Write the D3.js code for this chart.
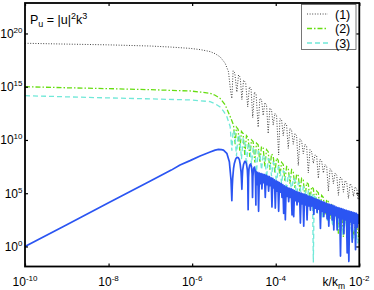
<!DOCTYPE html>
<html lang="en">
<head>
  <meta charset="UTF-8">
  <title>Spectrum P_u</title>
  <script src="https://d3js.org/d3.v7.min.js"></script>
  <style>
    body { margin: 0; background: #fff; }
    text { font-family: "Liberation Sans", Arial, Helvetica, sans-serif; }
  </style>
</head>
<body>
  <svg width="374" height="290"></svg>
  <script>
    // values are [log10(k/k_m), log10(P_u)]
    const xTicks = [-10, -8, -6, -4, -2];
    const yTicks = [0, 5, 10, 15, 20];
    const legendLabels = ["(1)", "(2)", "(3)"];

    const series1 = [
      [-10,19.08],[-9,19.0],[-8,18.93],[-7,18.82],[-6.5,18.72],[-6.05,18.6],[-5.8,18.48],[-5.57,18.3],
      [-5.45,18.1],[-5.33,17.8],[-5.21,17.2],[-5.13,16.4],[-5.08,14.6],[-5.05,13.9],[-5.02,16.5],
      [-4.98,16.3],[-4.93,14.5],[-4.89,16.1],[-4.85,15.9],[-4.81,13.8],[-4.77,15.6],[-4.72,15.4],
      [-4.67,13.1],[-4.63,15.0],[-4.59,14.8],[-4.55,12.1],[-4.51,14.5],[-4.47,14.3],[-4.42,11.2],
      [-4.38,13.9],[-4.34,13.8],[-4.3,12.3],[-4.26,13.5],[-4.22,13.3],[-4.18,10.6],[-4.14,13.0],
      [-4.1,12.8],[-4.06,11.4],[-4.02,12.5],[-3.98,12.3],[-3.93,8.6],[-3.9,12.0],[-3.86,11.9],
      [-3.82,10.4],[-3.78,11.6],[-3.74,11.4],[-3.7,9.2],[-3.66,11.1],[-3.62,10.9],[-3.58,9.6],
      [-3.54,10.6],[-3.5,10.4],[-3.46,7.6],[-3.42,10.1],[-3.38,9.9],[-3.34,8.7],[-3.3,9.6],
      [-3.26,9.4],[-3.22,6.9],[-3.18,9.1],[-3.14,8.9],[-3.1,7.8],[-3.06,8.6],[-3.02,8.5],
      [-2.98,6.4],[-2.94,8.2],[-2.9,8.0],[-2.86,6.9],[-2.82,7.7],[-2.78,7.5],[-2.74,5.2],
      [-2.7,7.3],[-2.66,7.1],[-2.62,5.9],[-2.58,6.9],[-2.54,6.7],[-2.5,4.8],[-2.46,6.5],
      [-2.42,6.4],[-2.38,5.1],[-2.34,6.2],[-2.3,6.0],[-2.26,4.5],[-2.22,5.9],[-2.18,5.7],
      [-2.14,4.7],[-2.1,5.6],[-2.06,5.4],[-2.03,4.4],[-2.0,5.3]
    ];

    const series2 = [
      [-10,15.0],[-9,14.9],[-8,14.82],[-7,14.72],[-6.05,14.6],[-5.8,14.5],[-5.57,14.38],[-5.45,14.2],
      [-5.33,13.9],[-5.21,13.3],[-5.09,12.2],[-5.01,11.4],[-4.97,9.6],[-4.94,11.2],[-4.9,11.0],
      [-4.86,9.0],[-4.82,10.8],[-4.78,10.6],[-4.74,8.6],[-4.7,10.4],[-4.66,10.2],[-4.62,8.4],
      [-4.58,10.0],[-4.54,9.85],[-4.5,7.9],[-4.46,9.7],[-4.42,9.55],[-4.38,7.9],[-4.34,9.4],
      [-4.3,9.25],[-4.26,7.5],[-4.22,9.1],[-4.18,8.9],[-4.14,7.2],[-4.1,8.7],[-4.06,8.5],
      [-4.02,6.9],[-3.98,8.3],[-3.94,8.1],[-3.9,6.6],[-3.86,7.9],[-3.82,7.7],[-3.78,6.1],
      [-3.74,7.5],[-3.7,7.35],[-3.66,5.9],[-3.62,7.2],[-3.58,7.0],[-3.54,5.5],[-3.5,6.8],
      [-3.46,6.65],[-3.42,5.2],[-3.38,6.4],[-3.34,6.25],[-3.3,4.5],[-3.26,6.0],[-3.22,5.85],
      [-3.18,4.4],[-3.14,5.6],[-3.1,5.45],[-3.06,3.9],[-3.02,5.2],[-2.98,5.05],[-2.94,3.5],
      [-2.9,4.8],[-2.86,4.6],[-2.82,3.0],[-2.78,4.4],[-2.74,4.2],[-2.7,2.6],[-2.66,4.0],
      [-2.62,2.8],[-2.58,3.6],[-2.54,3.4],[-2.5,1.2],[-2.46,3.2],[-2.42,3.0],[-2.38,0.9],
      [-2.34,2.8],[-2.3,2.6],[-2.26,1.0],[-2.22,2.4],[-2.18,2.2],[-2.14,0.8],[-2.1,2.0],
      [-2.06,1.8],[-2.02,0.9],[-2.0,1.6]
    ];

    const series3 = [
      [-10,14.16],[-9,14.05],[-8,13.95],[-7,13.86],[-6.05,13.76],[-5.8,13.68],[-5.57,13.6],[-5.45,13.4],
      [-5.33,13.1],[-5.25,12.7],[-5.17,12.2],[-5.09,11.25],[-5.05,9.0],[-5.02,10.9],[-4.98,10.7],
      [-4.94,8.5],[-4.9,10.5],[-4.86,10.3],[-4.82,8.2],[-4.78,10.1],[-4.74,9.9],[-4.7,7.6],
      [-4.66,9.7],[-4.62,9.5],[-4.58,7.7],[-4.54,9.3],[-4.5,9.15],[-4.46,7.0],[-4.42,8.95],
      [-4.38,8.8],[-4.34,7.2],[-4.3,8.6],[-4.26,8.45],[-4.22,6.4],[-4.18,8.25],[-4.14,8.1],
      [-4.1,6.6],[-4.06,7.9],[-4.02,7.7],[-3.98,5.8],[-3.94,7.5],[-3.9,7.35],[-3.86,5.9],
      [-3.82,7.1],[-3.78,6.95],[-3.74,5.2],[-3.7,6.75],[-3.66,6.6],[-3.62,5.1],[-3.58,6.4],
      [-3.54,6.25],[-3.5,4.6],[-3.46,6.0],[-3.42,5.85],[-3.38,4.3],[-3.34,5.6],[-3.3,5.45],
      [-3.26,3.9],[-3.22,5.2],[-3.18,5.05],[-3.14,3.6],[-3.12,4.9],[-3.1,-1.5],[-3.08,4.7],
      [-3.04,4.6],[-3.0,3.1],[-2.96,4.4],[-2.92,4.25],[-2.88,2.7],[-2.84,4.0],[-2.8,3.85],
      [-2.76,2.3],[-2.72,3.6],[-2.68,3.45],[-2.64,1.9],[-2.6,3.2],[-2.56,3.05],[-2.52,1.5],
      [-2.48,2.8],[-2.44,2.65],[-2.4,1.1],[-2.36,2.4],[-2.32,2.25],[-2.28,0.8],[-2.24,2.0],
      [-2.2,1.85],[-2.16,0.5],[-2.12,1.6],[-2.08,1.45],[-2.04,0.3],[-2.0,1.2]
    ];

    const seriesBlue = [
      [-10,0],[-9,2.05],[-8,4.1],[-7,6.15],[-6.5,7.17],[-6.29,7.65],[-6.05,8.06],[-5.81,8.5],
      [-5.57,8.87],[-5.45,9.05],[-5.37,9.12],[-5.3,9.1],[-5.25,9.05],[-5.17,8.75],[-5.11,7.96],
      [-5.07,6.24],[-5.05,4.3],[-5.04,5.6],[-5.03,6.4],[-5.01,7.3],[-4.99,7.8],[-4.96,8.2],
      [-4.93,8.37],[-4.9,8.35],[-4.87,8.15],[-4.85,7.7],[-4.83,7.0],[-4.82,6.3],[-4.81,5.37],
      [-4.8,6.5],[-4.79,7.2],[-4.77,7.7],[-4.74,8.0],[-4.72,7.95],[-4.7,7.75],[-4.68,7.2],
      [-4.67,6.4],[-4.66,3.45],[-4.65,6.5],[-4.64,7.3],[-4.62,7.65],[-4.6,7.75],[-4.58,7.5],
      [-4.565,6.8],[-4.555,4.6],[-4.545,6.6],[-4.53,7.3],[-4.51,7.45],[-4.495,7.2],[-4.485,6.4],
      [-4.475,3.9],[-4.47,7.05],[-4.45,5.8],[-4.43,6.95],[-4.41,3.3],[-4.39,6.9],[-4.37,5.9],
      [-4.35,6.85],[-4.33,5.4],[-4.31,6.8],[-4.29,6.0],[-4.27,6.75],[-4.25,4.6],[-4.23,6.7],
      [-4.21,5.8],[-4.19,6.6],[-4.17,5.2],[-4.15,6.55],[-4.13,5.7],[-4.11,6.45],[-4.09,3.7],
      [-4.07,6.4],[-4.05,5.5],[-4.03,6.25],[-4.01,3.6],[-3.99,6.15],[-3.97,5.2],[-3.95,6.1],
      [-3.93,3.3],[-3.91,6.0],[-3.89,5.1],[-3.87,5.9],[-3.85,4.6],[-3.83,5.8],[-3.81,3.1],
      [-3.79,5.7],[-3.77,2.5],[-3.75,5.6],[-3.73,4.7],[-3.71,5.5],[-3.69,4.2],[-3.67,5.45],
      [-3.65,4.6],[-3.63,5.4],[-3.61,2.96],[-3.59,5.35],[-3.57,2.8],[-3.55,5.25],[-3.53,4.3],
      [-3.51,5.15],[-3.49,3.9],[-3.47,5.1],[-3.45,4.2],[-3.43,5.05],[-3.41,2.2],[-3.39,5.0],
      [-3.37,4.0],[-3.35,4.95],[-3.33,1.9],[-3.31,4.9],[-3.29,3.9],[-3.27,4.85],[-3.25,2.5],
      [-3.23,4.75],[-3.21,3.8],[-3.19,4.7],[-3.17,3.4],[-3.15,4.65],[-3.13,3.8],[-3.11,4.6],
      [-3.09,3.0],[-3.07,4.5],[-3.05,3.6],[-3.03,4.45],[-3.01,3.2],[-2.99,4.4],[-2.97,3.5],
      [-2.95,4.3],[-2.93,1.7],[-2.91,4.25],[-2.89,3.3],[-2.87,4.2],[-2.85,2.8],[-2.83,4.15],
      [-2.81,3.2],[-2.79,4.05],[-2.77,2.6],[-2.75,4.0],[-2.73,1.9],[-2.71,3.95],[-2.69,3.0],
      [-2.67,3.9],[-2.65,2.5],[-2.63,3.85],[-2.61,1.55],[-2.59,3.8],[-2.57,2.9],[-2.55,3.7],
      [-2.53,1.55],[-2.51,3.65],[-2.49,2.7],[-2.47,3.6],[-2.45,-0.9],[-2.43,3.55],[-2.41,2.6],
      [-2.39,3.5],[-2.37,1.2],[-2.35,3.45],[-2.33,2.5],[-2.31,3.4],[-2.29,-0.6],[-2.27,3.35],
      [-2.25,-1.4],[-2.23,3.3],[-2.21,2.3],[-2.19,3.25],[-2.17,0.4],[-2.15,3.2],[-2.13,2.2],
      [-2.11,3.15],[-2.09,-0.3],[-2.07,3.1],[-2.05,1.8],[-2.03,3.0],[-2.01,2.2],[-2.0,3.0]
    ];

    const svg = d3.select("svg");
    const pL = 25, pR = 359.3, pT = 3, pB = 266.5;

    const x = d3.scaleLog().domain([1e-10, 1e-2]).range([pL, pR]);
    const y = d3.scaleLog().domain([10 ** -1.88, 10 ** 22.86]).range([pB, pT]);

    svg.append("clipPath").attr("id", "plot")
      .append("rect")
        .attr("x", pL).attr("y", pT)
        .attr("width", pR - pL).attr("height", pB - pT);

    const line = d3.line()
      .x(d => x(10 ** d[0]))
      .y(d => y(10 ** d[1]));

    const styles = [
      { data: series1, color: "#444", dash: "1,1.6", width: 1 },
      { data: series2, color: "#66dd11", dash: "5,2,1.5,2", width: 1.3 },
      { data: series3, color: "#70e8d8", dash: "5,3", width: 1.3 }
    ];

    const g = svg.append("g").attr("clip-path", "url(#plot)");

    g.selectAll("path.s")
      .data(styles)
      .join("path")
        .attr("class", "s")
        .attr("fill", "none")
        .attr("stroke", d => d.color)
        .attr("stroke-width", d => d.width)
        .attr("stroke-dasharray", d => d.dash)
        .attr("d", d => line(d.data));

    g.append("path")
      .attr("fill", "none")
      .attr("stroke", "#2b55f2")
      .attr("stroke-width", 1.7)
      .attr("stroke-linejoin", "round")
      .attr("d", line(seriesBlue));

    // inner ticks on all four sides
    const xt = xTicks.map(e => 10 ** e);
    const yt = yTicks.map(e => 10 ** e);
    const axes = [
      [d3.axisBottom(x).tickValues(xt), `translate(0,${pB})`],
      [d3.axisTop(x).tickValues(xt), `translate(0,${pT})`],
      [d3.axisLeft(y).tickValues(yt), `translate(${pL},0)`],
      [d3.axisRight(y).tickValues(yt), `translate(${pR},0)`]
    ];
    axes.forEach(([ax, tr]) => {
      const a = svg.append("g").attr("transform", tr)
        .call(ax.tickSize(-3).tickSizeOuter(0).tickFormat(""));
      a.select(".domain").remove();
      a.selectAll(".tick line").attr("stroke", "#000").attr("stroke-width", 1.2);
    });

    svg.append("rect")
      .attr("x", pL).attr("y", pT)
      .attr("width", pR - pL).attr("height", pB - pT)
      .attr("fill", "none").attr("stroke", "#000").attr("stroke-width", 1.8);

    // tick labels 10^n
    function power(sel, e) {
      sel.append("tspan").text("10");
      sel.append("tspan").attr("dy", -5).attr("font-size", 8).text(String(e));
    }

    svg.append("g").selectAll("text")
      .data(xTicks)
      .join("text")
        .attr("x", d => x(10 ** d))
        .attr("y", 286)
        .attr("text-anchor", "middle")
        .attr("font-size", 12)
        .each(function(d) { power(d3.select(this), d); });

    svg.append("g").selectAll("text")
      .data(yTicks)
      .join("text")
        .attr("x", 22.5)
        .attr("y", d => y(10 ** d) + 4.5)
        .attr("text-anchor", "end")
        .attr("font-size", 12)
        .each(function(d) { power(d3.select(this), d); });

    const xl = svg.append("text")
      .attr("x", 345).attr("y", 286)
      .attr("text-anchor", "end")
      .attr("font-size", 12);
    xl.append("tspan").text("k/k");
    xl.append("tspan").attr("dy", 3).attr("font-size", 8.5).text("m");

    // title
    const t = svg.append("text").attr("x", 30).attr("y", 24).attr("font-size", 12.5);
    t.append("tspan").text("P");
    t.append("tspan").attr("dy", 3).attr("font-size", 9).text("u");
    t.append("tspan").attr("dy", -3).text(" = |u|");
    t.append("tspan").attr("dy", -5).attr("font-size", 9).text("2");
    t.append("tspan").attr("dy", 5).text("k");
    t.append("tspan").attr("dy", -5).attr("font-size", 9).text("3");

    // legend
    const lg = svg.append("g");
    lg.append("rect")
      .attr("x", 301.5).attr("y", 4.5).attr("width", 54.5).attr("height", 45)
      .attr("fill", "#fff").attr("stroke", "#555").attr("stroke-width", 0.8);
    const item = lg.selectAll("g")
      .data(styles)
      .join("g")
        .attr("transform", (d, i) => `translate(0,${14 + i * 14.5})`);
    item.append("line")
      .attr("x1", 307).attr("x2", 328)
      .attr("stroke", d => d.color)
      .attr("stroke-width", d => d.width)
      .attr("stroke-dasharray", d => d.dash);
    item.append("text")
      .attr("x", 335).attr("y", 4.5)
      .attr("font-size", 12.5)
      .text((d, i) => legendLabels[i]);
  </script>
</body>
</html>
